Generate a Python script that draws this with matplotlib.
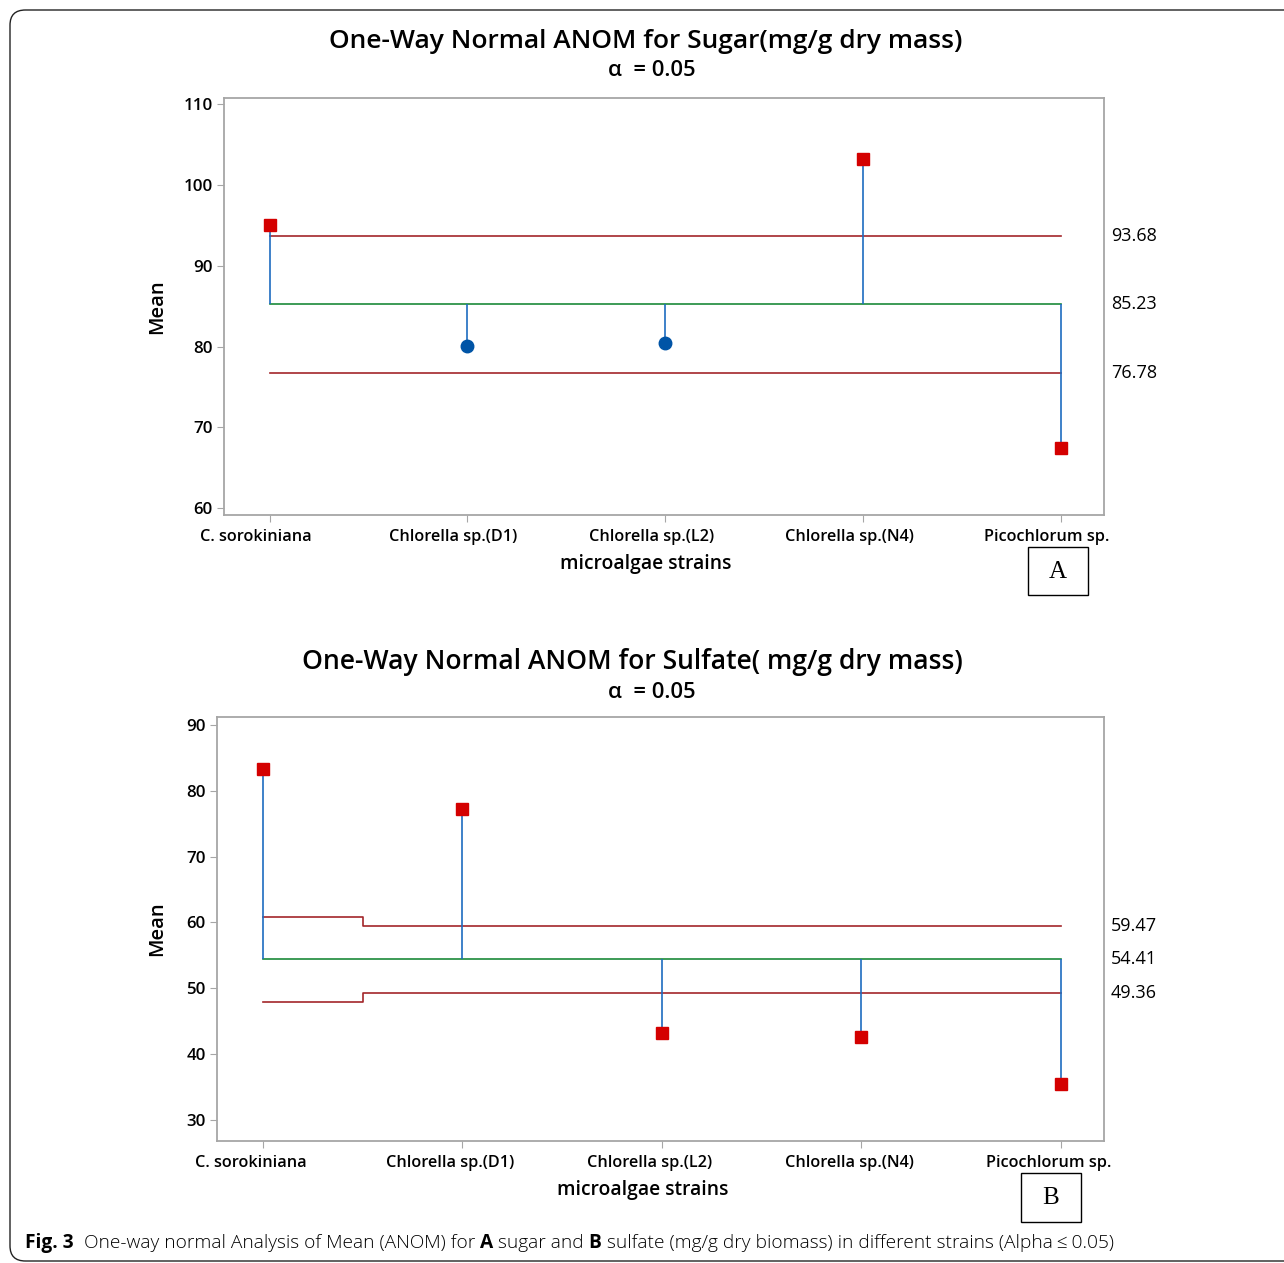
import matplotlib
matplotlib.use("Agg")
import matplotlib.pyplot as plt
from matplotlib.patches import FancyBboxPatch, Rectangle
from matplotlib.transforms import ScaledTranslation

plt.rcParams["font.family"] = ["Open Sans", "DejaVu Sans"]
plt.rcParams["font.weight"] = "semibold"

strains = ["C. sorokiniana", "Chlorella sp.(D1)", "Chlorella sp.(L2)",
           "Chlorella sp.(N4)", "Picochlorum sp."]

# A: sugar
sugar_means = [95.01, 80.03, 80.40, 103.18, 67.41]
sugar_center = 85.23
sugar_udl = [93.68, 93.68, 93.68, 93.68, 93.68]
sugar_ldl = [76.78, 76.78, 76.78, 76.78, 76.78]

# B: sulfate
sulfate_means = [83.3, 77.2, 43.2, 42.6, 35.5]
sulfate_center = 54.41
sulfate_udl = [60.88, 59.47, 59.47, 59.47, 59.47]
sulfate_ldl = [47.94, 49.36, 49.36, 49.36, 49.36]

RED = "#D40000"
BLUE_PT = "#0054A6"
STEM = "#1E6CC0"
GREEN = "#1B8A3A"
LIM = "#A3262A"
SPINE = "#A6A6A6"

W, H = 1284, 1263
fig = plt.figure(figsize=(W / 100, H / 100), dpi=100)
fig.canvas.draw()
r = fig.canvas.get_renderer()


def fx(px): return px / W
def fy(py): return 1 - py / H


def fit(t, target_w):
    # scale font so the text is target_w pixels wide
    w = t.get_window_extent(renderer=r).width
    t.set_fontsize(t.get_fontsize() * target_w / w)
    return t


def anom(ax, means, center, udl, ldl, ylim, yticks, shift):
    x = list(range(len(means)))
    ax.step(x, udl, where="mid", color=LIM, lw=1.2)
    ax.step(x, ldl, where="mid", color=LIM, lw=1.2)
    ax.plot([x[0], x[-1]], [center, center], color=GREEN, lw=1.2)
    ax.vlines(x, center, means, color=STEM, lw=1.2)
    for xi, m, u, l in zip(x, means, udl, ldl):
        if m > u or m < l:
            ax.plot(xi, m, "s", color=RED, ms=9, mec=RED)
        else:
            ax.plot(xi, m, "o", color=BLUE_PT, ms=9, mec=BLUE_PT)
    ax.set_xlim(-0.23, 4.217)
    ax.set_ylim(*ylim)
    ax.set_yticks(yticks)
    ax.set_xticks(x)
    ax.set_xticklabels(strains, fontsize=11.7)
    ax.tick_params(axis="y", labelsize=12.2, length=5, color=SPINE, pad=3)
    ax.tick_params(axis="x", length=5, color=SPINE, pad=5)
    for s in ax.spines.values():
        s.set_color(SPINE)
        s.set_linewidth(1.3)
    off = ScaledTranslation(-shift / 100, 0, fig.dpi_scale_trans)
    for lab in ax.get_xticklabels():
        lab.set_transform(lab.get_transform() + off)
    # right-side limit labels
    for v in (udl[-1], center, ldl[-1]):
        ax.text(1.008, v, f"{v:.2f}", transform=ax.get_yaxis_transform(),
                fontsize=13, fontweight="normal", va="center", ha="left")


axA = fig.add_axes([fx(224), fy(515), fx(1104) - fx(224), fy(97.7) - fy(515)])
anom(axA, sugar_means, sugar_center, sugar_udl, sugar_ldl, (59.17, 110.8),
     [60, 70, 80, 90, 100, 110], 14)

axB = fig.add_axes([fx(217), fy(1141), fx(1104) - fx(217), fy(716.7) - fy(1141)])
anom(axB, sulfate_means, sulfate_center, sulfate_udl, sulfate_ldl, (26.8, 91.27),
     [30, 40, 50, 60, 70, 80, 90], 12)

# titles and labels
fit(fig.text(fx(646), fy(42), "One-Way Normal ANOM for Sugar(mg/g dry mass)",
             ha="center", va="center", fontsize=19), 632)
fit(fig.text(fx(652), fy(71), "α  = 0.05", ha="center", va="center", fontsize=15), 87)
fit(fig.text(fx(646), fy(564), "microalgae strains", ha="center", va="center",
             fontsize=14.5), 171)
fig.text(fx(157), fy(307), "Mean", ha="center", va="center", fontsize=14.5, rotation=90)

fit(fig.text(fx(632), fy(662), "One-Way Normal ANOM for Sulfate( mg/g dry mass)",
             ha="center", va="center", fontsize=19), 661)
fit(fig.text(fx(652), fy(692), "α  = 0.05", ha="center", va="center", fontsize=15), 87)
fit(fig.text(fx(643), fy(1190), "microalgae strains", ha="center", va="center",
             fontsize=14.5), 171)
fig.text(fx(157), fy(929), "Mean", ha="center", va="center", fontsize=14.5, rotation=90)

# panel letters in boxes
for lab, x0, y0, x1, y1 in [("A", 1028, 547, 1088, 595), ("B", 1021, 1173, 1081, 1222)]:
    fig.patches.append(Rectangle((fx(x0), fy(y1)), fx(x1) - fx(x0), fy(y0) - fy(y1),
                                 transform=fig.transFigure, fill=False,
                                 ec="black", lw=1.0))
    fig.text(fx((x0 + x1) / 2), fy((y0 + y1) / 2 + 1), lab, ha="center", va="center",
             fontsize=18, fontweight="normal", family=["Liberation Serif", "DejaVu Serif"])

# outer rounded frame (runs off the right edge)
fig.patches.append(FancyBboxPatch((fx(10), fy(1261)), fx(1400) - fx(10), fy(10) - fy(1261),
                                  boxstyle="round,pad=0,rounding_size=0.012",
                                  transform=fig.transFigure, fill=False,
                                  ec="#222222", lw=1.0))

# caption, drawn in pieces
cap_parts = [("Fig. 3", "bold"), ("  One-way normal Analysis of Mean (ANOM) for ", "light"),
             ("A", "bold"), (" sugar and ", "light"), ("B", "bold"),
             (" sulfate (mg/g dry biomass) in different strains (Alpha\u2009≤\u20090.05)", "light")]
cap_fs = 13.75
xcur = 25
for txt, wt in cap_parts:
    t = fig.text(fx(xcur), fy(1243), txt, ha="left", va="center", fontsize=cap_fs,
                 fontweight=wt, family=["Open Sans", "DejaVu Sans"])
    xcur += t.get_window_extent(renderer=r).width

fig.savefig("out.png", dpi=100)
